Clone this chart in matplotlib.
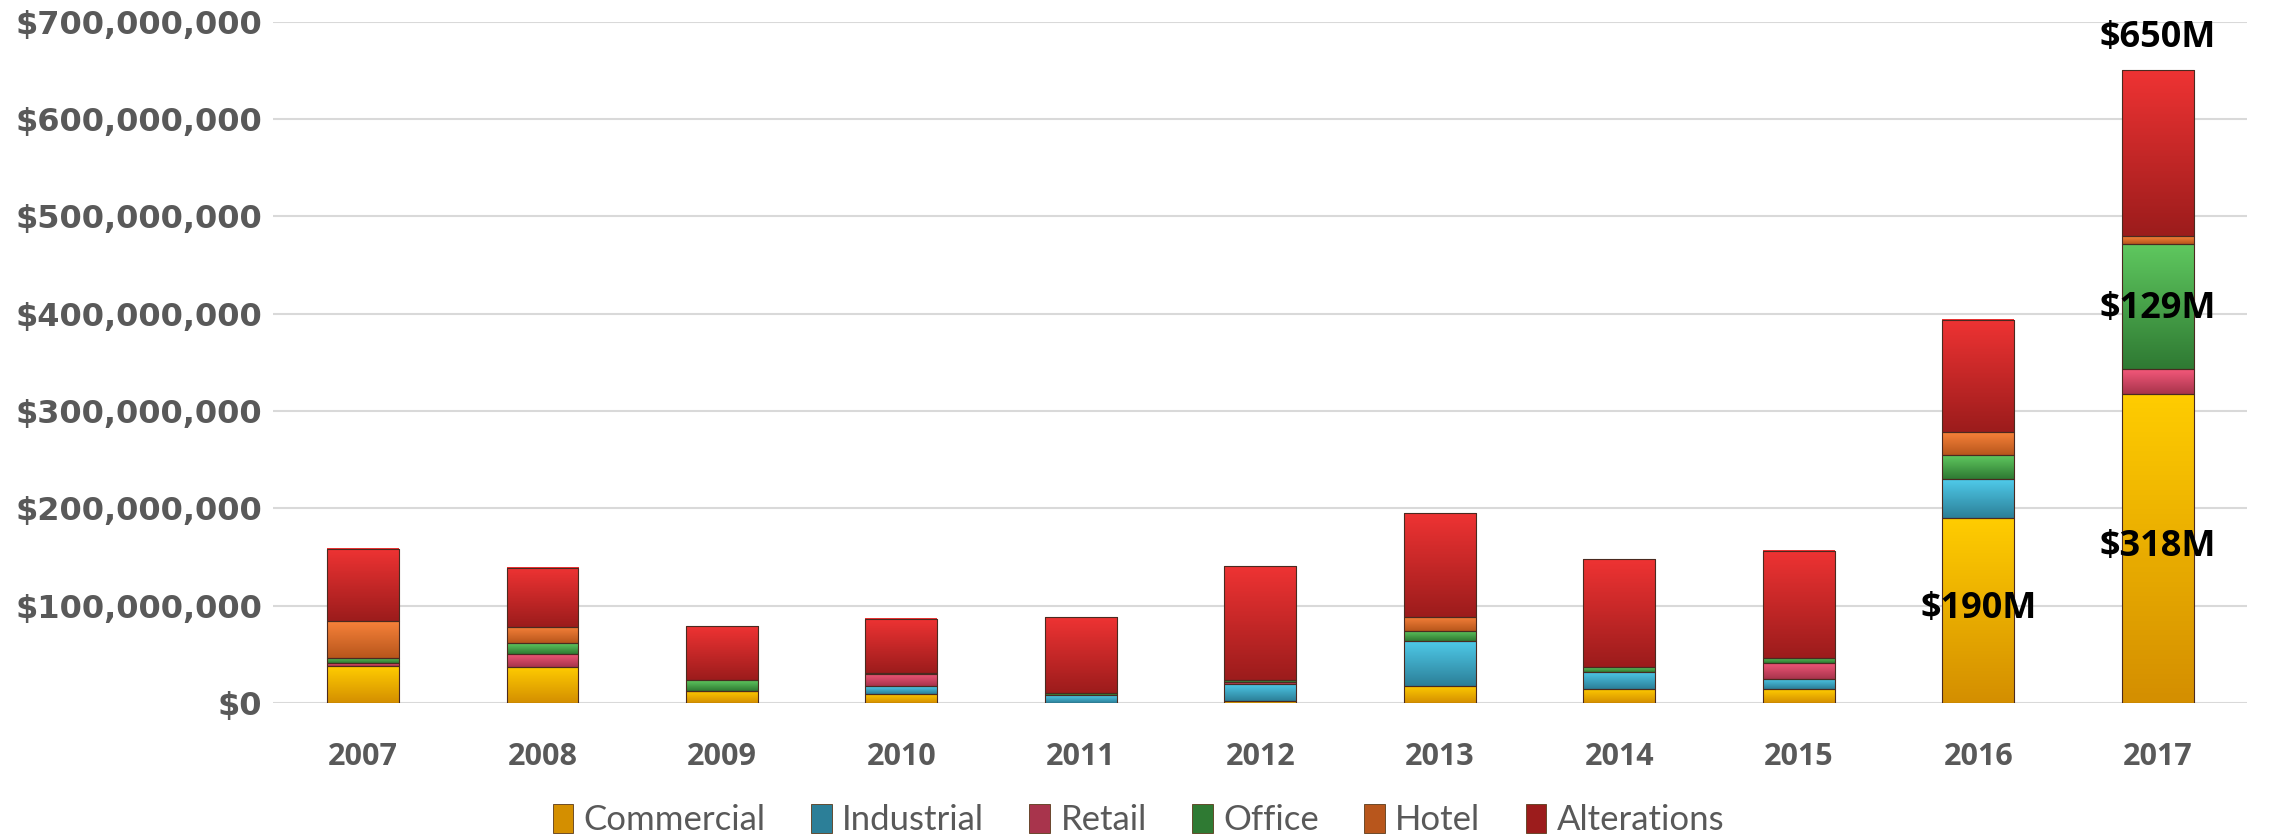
import numpy as np
import matplotlib
matplotlib.use('Agg')
import matplotlib.pyplot as plt
from matplotlib.colors import LinearSegmentedColormap
from matplotlib.ticker import FuncFormatter

#----Data (values in $ millions)----#
years = ['2007', '2008', '2009', '2010', '2011', '2012', '2013', '2014', '2015', '2016', '2017']
commercial  = [38, 37, 12.4, 9.3, 0, 2, 17.5, 14.8, 14, 190, 318]
industrial  = [0, 0, 0, 8.2, 8, 18, 46.5, 17.6, 10.5, 40, 0]
retail      = [2.7, 13.5, 0.5, 12.7, 0, 1.4, 0, 0, 16.5, 0, 25]
office      = [6, 11, 11, 1, 2.5, 2.5, 10.4, 4.8, 5.3, 24.6, 129]
hotel       = [37.2, 16.5, 0, 0, 0, 0, 14.4, 0, 0, 23.6, 8]
alterations = [74, 61, 55.3, 55.6, 78, 117, 106, 110.8, 110, 115.7, 170]

series_names = ['Commercial', 'Industrial', 'Retail', 'Office', 'Hotel', 'Alterations']
series_vals = [commercial, industrial, retail, office, hotel, alterations]
# (top colour, bottom colour) for the bevel-ish gradient
series_cols = [('#FFCC00', '#D48F00'), ('#4FCBEA', '#2C7F98'), ('#F4587A', '#A8344C'),
               ('#5FC85F', '#2F7A33'), ('#F7823A', '#B8561C'), ('#EE3333', '#9C1C1C')]

labels_text = ['$190M', '$318M', '$129M', '$650M']
labels_year = [9, 10, 10, 10]
labels_y = [97, 160, 405, 683]

plt.rcParams['font.family'] = ['Lato', 'DejaVu Sans']
bold_font = ['Open Sans', 'DejaVu Sans']

fig = plt.figure(figsize=(22.77, 8.34), dpi=100)
ax = fig.add_axes([0.12, 0.157, 0.867, 0.817])

x = np.arange(len(years))
bottom = np.zeros(len(years))
for name, vals, (ctop, cbot) in zip(series_names, series_vals, series_cols):
    vals = np.array(vals) * 1e6
    bars = ax.bar(x, vals, width=0.4, bottom=bottom, color=cbot, edgecolor='#5a3a1a',
                  linewidth=0.6, label=name, zorder=3)
    cmap = LinearSegmentedColormap.from_list(name, [cbot, ctop])
    grad = np.linspace(0, 1, 64).reshape(-1, 1)
    for b in bars:
        if b.get_height() <= 0:
            continue
        x0, y0 = b.get_x(), b.get_y()
        ax.imshow(grad, extent=[x0, x0 + b.get_width(), y0, y0 + b.get_height()],
                  origin='lower', cmap=cmap, aspect='auto', zorder=3.5)
        ax.add_patch(plt.Rectangle((x0, y0), b.get_width(), b.get_height(), fill=False,
                                   edgecolor='#4a2a20', linewidth=0.8, zorder=4))
    bottom += vals

for t, i, yv in zip(labels_text, labels_year, labels_y):
    ax.text(x[i], yv * 1e6, t, ha='center', va='center', fontsize=26, family=bold_font,
            fontweight='bold', color='black', zorder=6)

ax.set_xlim(-0.5, len(years) - 0.5)
ax.set_ylim(0, 700e6)
ax.set_yticks(np.arange(0, 701e6, 100e6))
ax.yaxis.set_major_formatter(FuncFormatter(lambda v, p: '${:,.0f}'.format(v)))
ax.set_xticks(x)
ax.set_xticklabels(years)
ax.grid(axis='y', color='#D9D9D9', linewidth=1.5, zorder=0)
ax.set_axisbelow(True)
for s in ax.spines.values():
    s.set_visible(False)
ax.tick_params(axis='both', length=0, labelcolor='#595959')
ax.tick_params(axis='y', pad=8)
ax.tick_params(axis='x', pad=28)
for lbl in ax.get_yticklabels():
    lbl.set_fontweight('bold')
    lbl.set_fontsize(23)
    lbl.set_family(['DejaVu Sans'])
for lbl in ax.get_xticklabels():
    lbl.set_fontweight('bold')
    lbl.set_fontsize(22)
    lbl.set_family(bold_font)

fig.legend(*ax.get_legend_handles_labels(), loc='lower center', ncol=6, frameon=False,
           bbox_to_anchor=(0.5, -0.04), fontsize=25, handlelength=0.6, handleheight=0.9,
           handletextpad=0.3, columnspacing=1.3, labelcolor='#595959')

fig.savefig('out.png', dpi=100)
